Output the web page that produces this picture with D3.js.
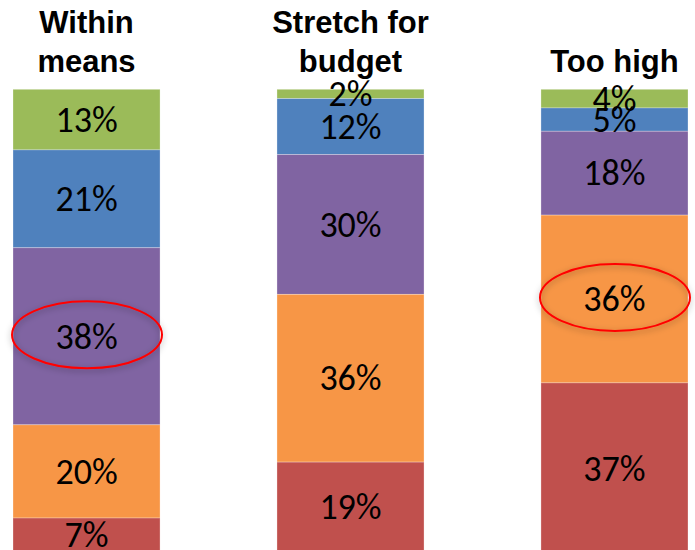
<!doctype html>
<html lang="en">
<head>
    <meta charset="utf-8">
    <title>Price perception stacked bars</title>
    <script src="https://cdn.jsdelivr.net/npm/d3@7"></script>
    <style>
        body { margin: 0; background: #ffffff; }
        svg { display: block; }
    </style>
</head>
<body>
    <svg></svg>
    <script>
        var width = 695;
        var height = 550;

        // bar titles, one entry per bar (lines of the title)
        var categories = ["Within means", "Stretch for budget", "Too high"];
        var titleLines = [["Within", "means"], ["Stretch for", "budget"], ["Too high"]];

        // segment values, listed from top of bar to bottom
        var seriesKeys = ["green", "blue", "purple", "orange", "red"];
        var green  = [13, 2, 4];
        var blue   = [21, 12, 5];
        var purple = [38, 30, 18];
        var orange = [20, 36, 36];
        var red    = [7, 19, 37];

        // circled segments
        var highlights = [{ bar: "Within means", key: "purple" }, { bar: "Too high", key: "orange" }];

        var colors = {
            green: "#9bbb59",
            blue: "#4f81bd",
            purple: "#8064a2",
            orange: "#f79646",
            red: "#c0504d"
        };

        var seriesValues = { green: green, blue: blue, purple: purple, orange: orange, red: red };
        var table = categories.map(function (c, i) {
            var row = { category: c };
            seriesKeys.forEach(function (k) { row[k] = seriesValues[k][i]; });
            return row;
        });

        var stacked = d3.stack().keys(seriesKeys)(table);

        var xScale = d3.scaleBand()
            .domain(categories)
            .range([13, 688])
            .paddingInner(0.443)
            .paddingOuter(0);

        // stack runs from the top of the bar downward
        var yScale = d3.scaleLinear()
            .domain([0, 100])
            .range([89.3, 89.3 + 466]);

        var svg = d3.select("svg").attr("width", width).attr("height", height);

        var defs = svg.append("defs");
        var shadow = defs.append("filter")
            .attr("id", "soft-shadow")
            .attr("x", "-20%").attr("y", "-40%")
            .attr("width", "140%").attr("height", "180%");
        shadow.append("feDropShadow")
            .attr("dx", 0).attr("dy", 2)
            .attr("stdDeviation", 3)
            .attr("flood-color", "#000")
            .attr("flood-opacity", 0.35);

        // segments
        var layers = svg.append("g").attr("id", "bars")
            .selectAll("g")
            .data(stacked)
            .enter()
            .append("g")
            .attr("fill", function (d) { return colors[d.key]; });

        layers.selectAll("rect")
            .data(function (d) { return d; })
            .enter()
            .append("rect")
            .attr("x", function (d) { return xScale(d.data.category); })
            .attr("y", function (d) { return yScale(d[0]); })
            .attr("width", xScale.bandwidth())
            .attr("height", function (d) { return yScale(d[1]) - yScale(d[0]); })
            .attr("stroke", "#ffffff")
            .attr("stroke-opacity", 0.35)
            .attr("stroke-width", 0.8);

        // value labels, drawn above every segment
        var labelData = [];
        stacked.forEach(function (layer) {
            layer.forEach(function (p) { labelData.push({ p: p, key: layer.key }); });
        });

        svg.append("g").attr("id", "labels")
            .selectAll("text")
            .data(labelData)
            .enter()
            .append("text")
            .attr("x", function (d) { return xScale(d.p.data.category) + xScale.bandwidth() / 2; })
            .attr("y", function (d) { return (yScale(d.p[0]) + yScale(d.p[1])) / 2; })
            .attr("dy", "0.34em")
            .attr("text-anchor", "middle")
            .attr("fill", "#000000")
            .style("font-family", "Carlito, 'Open Sans', sans-serif")
            .style("font-size", "36px")
            .text(function (d) { return d.p.data[d.key] + "%"; });

        // titles
        var titles = svg.append("g").attr("id", "titles")
            .selectAll("text")
            .data(categories)
            .enter()
            .append("text")
            .attr("text-anchor", "middle")
            .style("font-family", "'Liberation Sans', Arial, sans-serif")
            .style("font-weight", "bold")
            .style("font-size", "31px")
            .attr("fill", "#000000");

        titles.each(function (c, i) {
            var lines = titleLines[i];
            var cx = xScale(c) + xScale.bandwidth() / 2;
            d3.select(this).selectAll("tspan")
                .data(lines)
                .enter()
                .append("tspan")
                .attr("x", cx)
                .attr("y", function (l, j) { return 72 - (lines.length - 1 - j) * 39; })
                .text(function (l) { return l; });
        });

        // red ellipses around highlighted segments
        svg.append("g").attr("id", "highlights")
            .selectAll("ellipse")
            .data(highlights)
            .enter()
            .append("ellipse")
            .attr("cx", function (h) { return xScale(h.bar) + xScale.bandwidth() / 2 + 0.5; })
            .attr("cy", function (h) {
                var layer = stacked.find(function (s) { return s.key === h.key; });
                var seg = layer[categories.indexOf(h.bar)];
                return (yScale(seg[0]) + yScale(seg[1])) / 2 - 1.5;
            })
            .attr("rx", 75)
            .attr("ry", 33.5)
            .attr("fill", "none")
            .attr("stroke", "#ff0000")
            .attr("stroke-width", 2)
            .attr("filter", "url(#soft-shadow)");
    </script>
</body>
</html>
